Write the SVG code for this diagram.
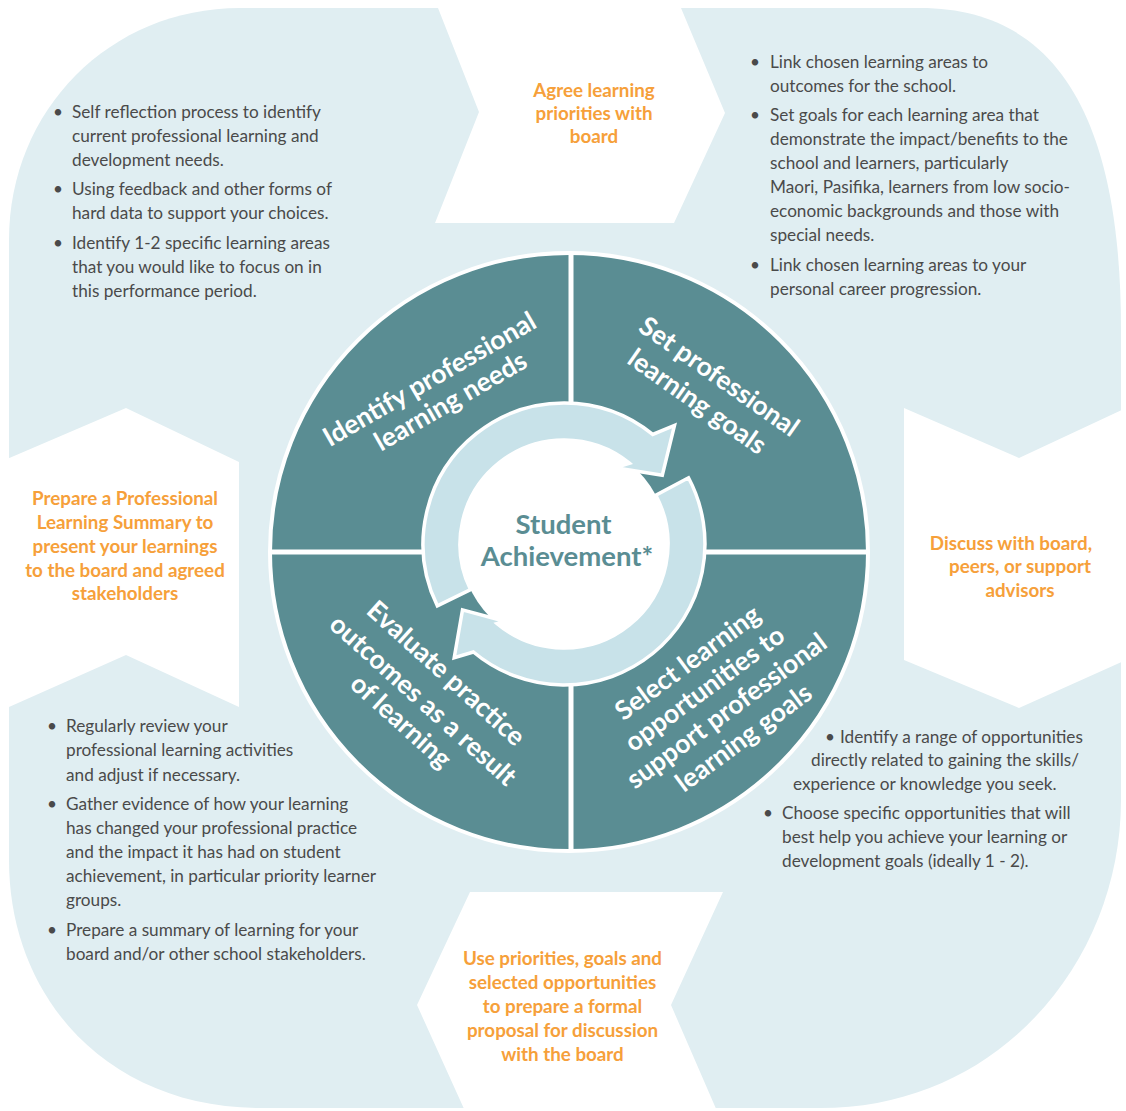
<svg xmlns="http://www.w3.org/2000/svg" width="1126" height="1111" viewBox="0 0 1126 1111">
<style>
.bg{fill:#e0eef2}
.gap{fill:#ffffff}
.body{font-family:Lato,"Open Sans","Liberation Sans",sans-serif;font-size:17.2px;fill:#4a4a4a}
.lbl{font-family:Lato,"Open Sans","Liberation Sans",sans-serif;font-size:18.8px;font-weight:700;fill:#f6a03a;text-anchor:middle}
.q{font-family:Lato,"Open Sans","Liberation Sans",sans-serif;font-size:26.5px;font-weight:700;fill:#ffffff;text-anchor:middle}
.ctr{font-family:Lato,"Open Sans","Liberation Sans",sans-serif;font-size:27.5px;font-weight:700;fill:#5a8d93;text-anchor:middle}
.arrow{fill:#c8e2e9;stroke:#ffffff;stroke-width:3.5;stroke-linejoin:miter}
</style>
<rect width="1126" height="1111" fill="#ffffff"/>
<g id="background">
<path class="bg" d="M9,240 C9,110 110,8 240,8 L920,8 C1070,8 1121,140 1121,330 L1121,800 C1121,960 1000,1108 820,1108 L260,1108 C110,1108 9,1000 9,860 Z"/>
<polygon class="gap" points="438,8 681,8 725,113 674,223 435,223 479,112"/>
<polygon class="gap" points="904,408 1019,458 1126,408 1126,660 1019,708 904,660"/>
<polygon class="gap" points="0,462 126,408 239,462 239,707 126,655 0,711"/>
<polygon class="gap" points="470,892 723,892 671,1005 717,1111 465,1111 417,1005"/>
</g>
<g id="wheel">
<circle cx="569" cy="552" r="299" fill="#5a8d93" stroke="#ffffff" stroke-width="4"/>
<line x1="571" y1="252" x2="571" y2="852" stroke="#ffffff" stroke-width="5"/>
<line x1="270" y1="552" x2="868" y2="552" stroke="#ffffff" stroke-width="5"/>
</g>
<g id="connectors">
<circle cx="564" cy="544" r="104" fill="#ffffff"/>
<path class="arrow" d="M437.3,605.8 A141,141 0 0 1 652.7,434.4 L674.5,425.5 L662.3,475.2 L615.4,467.7 L629.4,463.2 A104,104 0 0 0 470.5,589.6 Z"/>
<path class="arrow" d="M688.5,477.8 A141,141 0 0 1 473.4,652 L454.2,657.7 L462.5,609.9 L505.6,621.5 L497.1,623.7 A104,104 0 0 0 655.8,495.2 Z"/>
</g>
<g id="center">
<text class="ctr" x="563.5" y="534">Student</text>
<text class="ctr" x="567" y="566">Achievement*</text>
</g>
<g id="q-identify">
<text class="q" transform="translate(434,387) rotate(-30)">Identify professional</text>
<text class="q" transform="translate(455,409) rotate(-30)">learning needs</text>
</g>
<g id="q-set">
<text class="q" transform="translate(714,384) rotate(35)">Set professional</text>
<text class="q" transform="translate(692,409) rotate(35)">learning goals</text>
</g>
<g id="q-evaluate">
<text class="q" transform="translate(440,680) rotate(42)">Evaluate practice</text>
<text class="q" transform="translate(417,707) rotate(42)">outcomes as a result</text>
<text class="q" transform="translate(395,728) rotate(42)">of learning</text>
</g>
<g id="q-select">
<text class="q" transform="translate(693,670) rotate(-36.5)">Select learning</text>
<text class="q" transform="translate(710,696) rotate(-36.5)">opportunities to</text>
<text class="q" transform="translate(732,718) rotate(-36.5)">support professional</text>
<text class="q" transform="translate(749,745) rotate(-36.5)">learning goals</text>
</g>
<g id="label-agree">
<text class="lbl" x="594" y="97">Agree learning</text>
<text class="lbl" x="594" y="120">priorities with</text>
<text class="lbl" x="594" y="143">board</text>
</g>
<g id="label-discuss">
<text class="lbl" x="1011" y="550">Discuss with board,</text>
<text class="lbl" x="1020" y="573">peers, or support</text>
<text class="lbl" x="1020" y="597">advisors</text>
</g>
<g id="label-use">
<text class="lbl" x="562.5" y="965">Use priorities, goals and</text>
<text class="lbl" x="562.5" y="989">selected opportunities</text>
<text class="lbl" x="562.5" y="1013">to prepare a formal</text>
<text class="lbl" x="562.5" y="1037">proposal for discussion</text>
<text class="lbl" x="562.5" y="1061">with the board</text>
</g>
<g id="label-prepare">
<text class="lbl" x="125" y="505">Prepare a Professional</text>
<text class="lbl" x="125" y="529">Learning Summary to</text>
<text class="lbl" x="125" y="553">present your learnings</text>
<text class="lbl" x="125" y="577">to the board and agreed</text>
<text class="lbl" x="125" y="600">stakeholders</text>
</g>
<g id="notes-identify" class="body">
<text x="53" y="118">•</text><text x="72" y="118">Self reflection process to identify</text>
<text x="72" y="142">current professional learning and</text>
<text x="72" y="166">development needs.</text>
<text x="53" y="195">•</text><text x="72" y="195">Using feedback and other forms of</text>
<text x="72" y="219">hard data to support your choices.</text>
<text x="53" y="249">•</text><text x="72" y="249">Identify 1-2 specific learning areas</text>
<text x="72" y="273">that you would like to focus on in</text>
<text x="72" y="297">this performance period.</text>
</g>
<g id="notes-set" class="body">
<text x="750" y="68">•</text><text x="770" y="68">Link chosen learning areas to</text>
<text x="770" y="92">outcomes for the school.</text>
<text x="750" y="121">•</text><text x="770" y="121">Set goals for each learning area that</text>
<text x="770" y="145">demonstrate the impact/benefits to the</text>
<text x="770" y="169">school and learners, particularly</text>
<text x="770" y="193">Maori, Pasifika, learners from low socio-</text>
<text x="770" y="217">economic backgrounds and those with</text>
<text x="770" y="241">special needs.</text>
<text x="750" y="271">•</text><text x="770" y="271">Link chosen learning areas to your</text>
<text x="770" y="295">personal career progression.</text>
</g>
<g id="notes-select" class="body">
<text x="825" y="743">•</text><text x="840" y="743">Identify a range of opportunities</text>
<text x="811" y="766">directly related to gaining the skills/</text>
<text x="793" y="790">experience or knowledge you seek.</text>
<text x="763" y="819">•</text><text x="782" y="819">Choose specific opportunities that will</text>
<text x="782" y="843">best help you achieve your learning or</text>
<text x="782" y="867">development goals (ideally 1 - 2).</text>
</g>
<g id="notes-evaluate" class="body">
<text x="47" y="732">•</text><text x="66" y="732">Regularly review your</text>
<text x="66" y="756">professional learning activities</text>
<text x="66" y="781">and adjust if necessary.</text>
<text x="47" y="810">•</text><text x="66" y="810">Gather evidence of how your learning</text>
<text x="66" y="834">has changed your professional practice</text>
<text x="66" y="858">and the impact it has had on student</text>
<text x="66" y="882">achievement, in particular priority learner</text>
<text x="66" y="906">groups.</text>
<text x="47" y="936">•</text><text x="66" y="936">Prepare a summary of learning for your</text>
<text x="66" y="960">board and/or other school stakeholders.</text>
</g>
</svg>
